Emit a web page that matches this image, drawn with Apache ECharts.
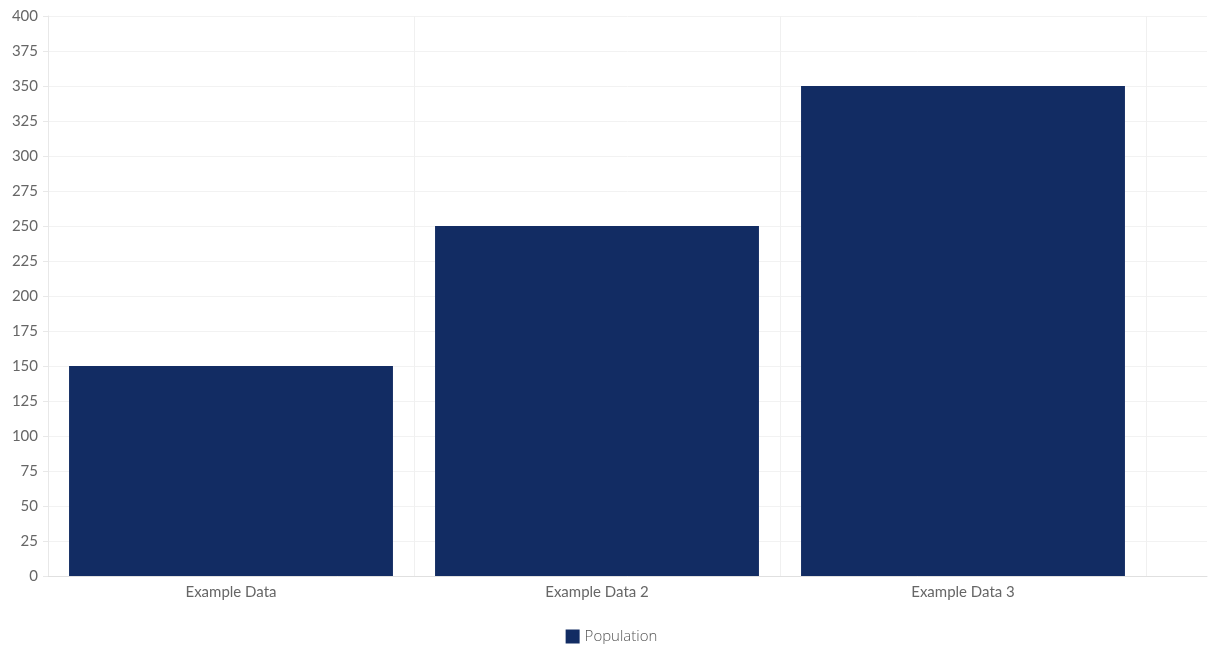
<!DOCTYPE html>
<html>
<head>
<meta charset="utf-8">
<script src="https://cdn.jsdelivr.net/npm/echarts@6/dist/echarts.min.js"></script>
<style>
  html, body { margin: 0; padding: 0; background: #fff; }
  #chart { width: 1223px; height: 658px; }
</style>
</head>
<body>
<div id="chart"></div>
<script>
var categories = ['Example Data', 'Example Data 2', 'Example Data 3'];
var population = [150, 250, 350];

// grid 0: full width background (horizontal grid + y labels)
// grid 1: the bars, which stop short of the right edge like the original
var chart = echarts.init(document.getElementById('chart'));
chart.setOption({
    animation: false,
    textStyle: { fontFamily: 'Lato' },
    grid: [
        { left: 48, right: 16, top: 16, bottom: 82 },
        { left: 48, right: 77, top: 16, bottom: 82 }
    ],
    legend: {
        bottom: 9,
        itemWidth: 14,
        itemHeight: 14,
        itemGap: 8,
        icon: 'rect',
        textStyle: { color: '#555', fontSize: 15, fontFamily: 'Open Sans', fontWeight: 300 },
        data: ['Population']
    },
    xAxis: [{
        gridIndex: 0,
        type: 'category',
        data: [''],
        axisLine: { lineStyle: { color: '#e0e0e0' } },
        axisTick: { show: false },
        axisLabel: { show: false },
        splitLine: { show: false }
    }, {
        gridIndex: 1,
        type: 'category',
        data: categories,
        axisLine: { show: false },
        axisTick: { show: false },
        axisLabel: { color: '#666', fontSize: 15, margin: 9 },
        splitLine: { show: true, lineStyle: { color: '#f0f0f0' } }
    }],
    yAxis: [{
        gridIndex: 0,
        type: 'value',
        min: 0,
        max: 400,
        interval: 25,
        axisLine: { show: true, lineStyle: { color: '#e8e8e8' } },
        axisTick: { show: true, length: 5, lineStyle: { color: '#e8e8e8' } },
        axisLabel: { color: '#666', fontSize: 15, margin: 10 },
        splitLine: { lineStyle: { color: '#f2f2f2' } }
    }, {
        gridIndex: 1,
        type: 'value',
        min: 0,
        max: 400,
        interval: 25,
        show: false
    }],
    series: [{
        name: 'Population',
        type: 'bar',
        xAxisIndex: 1,
        yAxisIndex: 1,
        data: population,
        barCategoryGap: '11.5%',
        itemStyle: { color: '#122c63' }
    }]
});
</script>
</body>
</html>
